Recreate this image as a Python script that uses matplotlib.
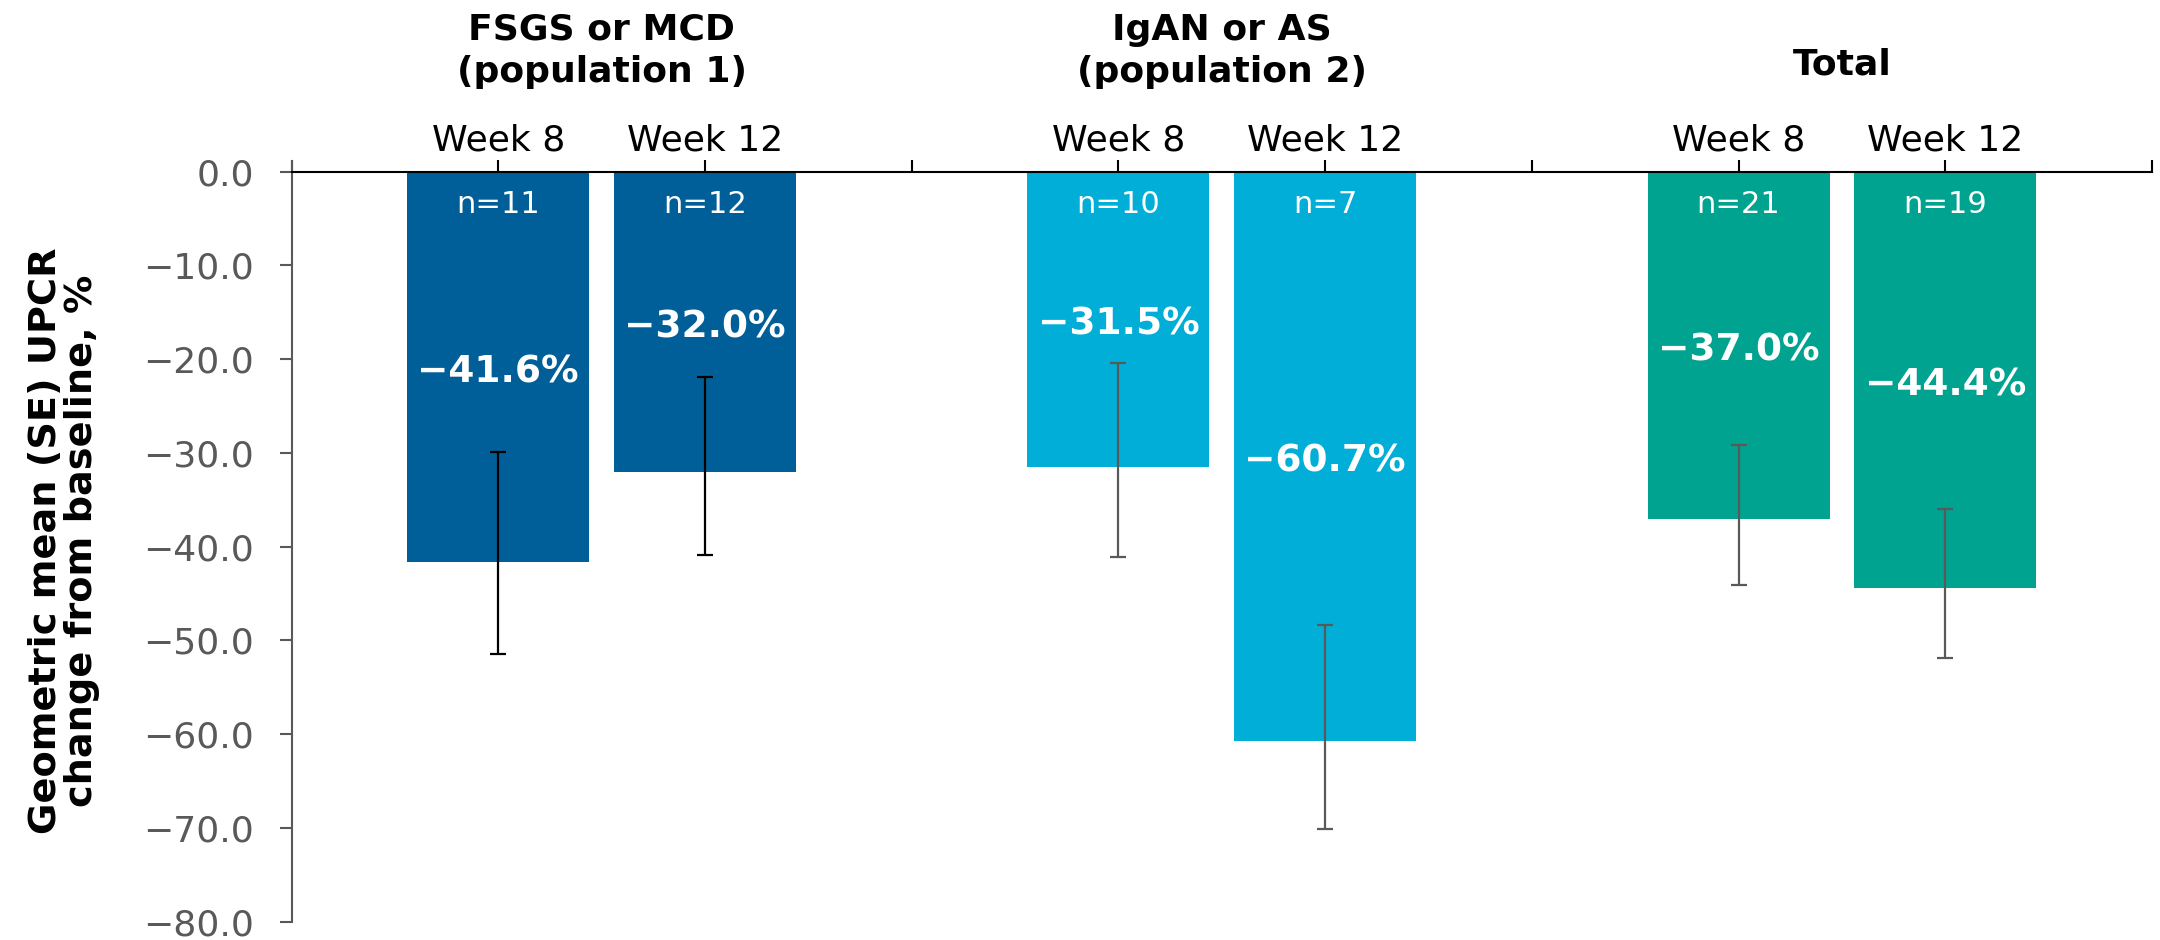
import numpy as np
import matplotlib
matplotlib.use("Agg")
import matplotlib.pyplot as plt
from matplotlib.ticker import FuncFormatter
from matplotlib.transforms import blended_transform_factory

groups = ["FSGS or MCD\n(population 1)", "IgAN or AS\n(population 2)", "Total"]
weeks = ["Week 8", "Week 12"]
values = [-41.6, -32.0, -31.5, -60.7, -37.0, -44.4]
n_pts = [11, 12, 10, 7, 21, 19]
# ends of the SE whiskers (asymmetric on the back-transformed scale)
se_top = [-29.9, -21.9, -20.4, -48.4, -29.1, -36.0]
se_bottom = [-51.4, -40.9, -41.1, -70.1, -44.1, -51.9]

bar_colors = ["#005F99", "#005F99", "#00AED7", "#00AED7", "#00A390", "#00A390"]
err_colors = ["black", "black", "#595959", "#595959", "#595959", "#595959"]

x = np.array([g * 3 + k + 1 for g in range(len(groups)) for k in range(len(weeks))])

fig = plt.figure(figsize=(21.6, 9.4), dpi=100)
ax = fig.add_axes([0.135, 0.0195, 0.8613, 0.8092])

ax.bar(x, values, width=0.88, color=bar_colors, zorder=2)
for xi, v, hi, lo, c in zip(x, values, se_top, se_bottom, err_colors):
    ax.errorbar(xi, v, yerr=[[v - lo], [hi - v]], fmt="none", ecolor=c,
                elinewidth=1.6, capsize=6, capthick=1.6, zorder=3)

for xi, v, n in zip(x, values, n_pts):
    ax.text(xi, -3.5, f"n={n}", color="white", fontsize=22,
            ha="center", va="center", zorder=4)
    ax.annotate(f"{v:.1f}%".replace("-", "\u2212"), (xi, v / 2),
                xytext=(0, -4), textcoords="offset points", color="white",
                fontsize=27, fontweight="bold", ha="center", va="center", zorder=4)

ax.set_xlim(0, 9)
ax.set_ylim(-80, 1.14)

# x axis sits on the zero line, labels above it
for s in ["right", "bottom"]:
    ax.spines[s].set_visible(False)
ax.spines["top"].set_position(("data", 0))
ax.spines["top"].set_color("black")
ax.spines["top"].set_linewidth(1.5)
ax.spines["top"].set_zorder(5)
ax.spines["left"].set_color("#595959")
ax.spines["left"].set_linewidth(1.5)

ax.xaxis.tick_top()
ax.set_xticks(x)
ax.set_xticklabels(weeks * len(groups))
ax.set_xticks([0, 3, 6, 9], minor=True)
ax.tick_params(axis="x", which="both", direction="out", length=9, width=1.5,
               color="black", labelcolor="black", labelsize=26, pad=1,
               top=True, bottom=False)

ax.set_yticks(np.arange(-80, 1, 10))
ax.yaxis.set_major_formatter(FuncFormatter(lambda v, p: f"{v:.1f}".replace("-", "\u2212")))
ax.tick_params(axis="y", length=9, width=1.5, color="#595959",
               labelcolor="#595959", labelsize=26, pad=18)

trans = blended_transform_factory(ax.transData, fig.transFigure)
title_y = [0.946, 0.946, 0.931]
for g, (title, ty) in enumerate(zip(groups, title_y)):
    ax.text(g * 3 + 1.5, ty, title, transform=trans, ha="center", va="center",
            fontsize=26, fontweight="bold", linespacing=1.3)

fig.text(0.0295, 0.4245, "Geometric mean (SE) UPCR\nchange from baseline, %",
         rotation=90, ha="center", va="center", multialignment="center",
         fontsize=27.5, fontweight="bold", linespacing=1.0)

fig.savefig("out.png", dpi=100)
